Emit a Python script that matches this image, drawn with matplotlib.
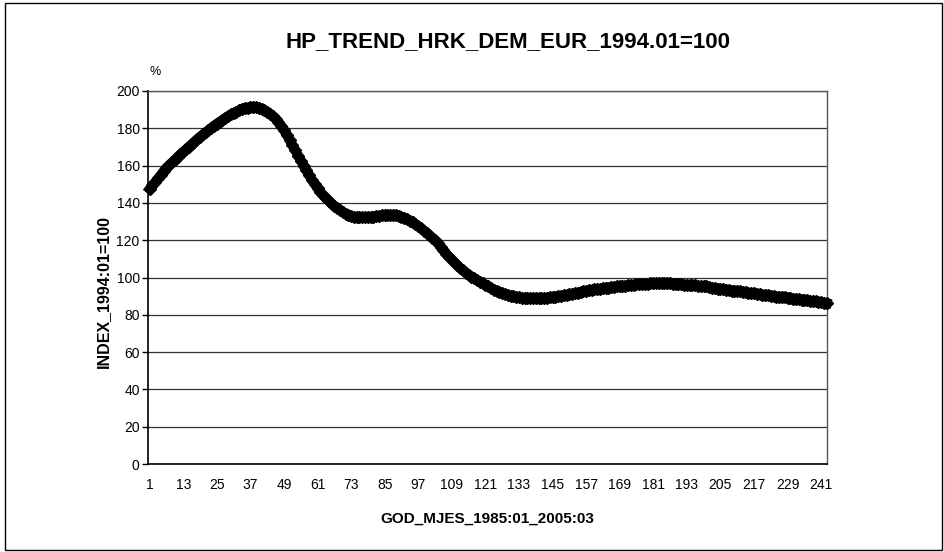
import matplotlib
matplotlib.use("Agg")
import matplotlib.pyplot as plt
from matplotlib.patches import Rectangle

plt.rcParams['font.family'] = ['Liberation Sans', 'DejaVu Sans']

title = "HP_TREND_HRK_DEM_EUR_1994.01=100"
xlabel = "GOD_MJES_1985:01_2005:03"
ylabel = "INDEX_1994:01=100"
unit_label = "%"

months = list(range(1, 244))
values = [
    147.5, 149.4, 151.3, 153.2, 155.1, 157.0, 158.9, 160.4, 161.8, 163.2, 164.7, 166.1,
    167.5, 168.8, 170.2, 171.5, 172.9, 174.2, 175.5, 176.7, 177.9, 179.0, 180.2, 181.4,
    182.5, 183.5, 184.5, 185.5, 186.5, 187.4, 188.3, 189.0, 189.7, 190.3, 190.8, 191.1,
    191.3, 191.4, 191.3, 191.0, 190.5, 189.8, 189.0, 187.8, 186.5, 185.0, 183.2, 181.2,
    179.0, 176.5, 173.8, 171.0, 168.2, 165.4, 162.7, 160.0, 157.4, 154.8, 152.3, 150.0,
    147.8, 145.8, 144.0, 142.4, 141.0, 139.6, 138.4, 137.2, 136.1, 135.1, 134.2, 133.5,
    133.0, 132.7, 132.4, 132.3, 132.3, 132.3, 132.4, 132.5, 132.7, 132.9, 133.1, 133.3,
    133.4, 133.5, 133.5, 133.5, 133.3, 133.0, 132.6, 132.0, 131.3, 130.5, 129.6, 128.6,
    127.5, 126.4, 125.2, 124.0, 122.7, 121.4, 120.0, 118.3, 116.4, 114.5, 112.8, 111.1,
    109.5, 108.0, 106.5, 105.0, 103.8, 102.6, 101.5, 100.5, 99.5, 98.5, 97.6, 96.8,
    96.0, 95.2, 94.3, 93.5, 92.8, 92.2, 91.6, 91.1, 90.6, 90.2, 89.9, 89.6,
    89.3, 89.2, 89.0, 88.9, 88.8, 88.8, 88.8, 88.8, 88.9, 89.0, 89.2, 89.3,
    89.5, 89.7, 90.0, 90.2, 90.4, 90.7, 91.0, 91.3, 91.6, 91.9, 92.2, 92.5,
    92.8, 93.1, 93.3, 93.6, 93.8, 94.0, 94.2, 94.4, 94.6, 94.8, 95.0, 95.2,
    95.3, 95.5, 95.7, 95.8, 96.0, 96.1, 96.3, 96.4, 96.5, 96.6, 96.7, 96.8,
    96.8, 96.9, 96.9, 97.0, 97.0, 96.9, 96.8, 96.7, 96.6, 96.4, 96.3, 96.2,
    96.1, 96.0, 95.9, 95.8, 95.6, 95.5, 95.3, 95.2, 94.9, 94.6, 94.4, 94.1,
    93.8, 93.6, 93.4, 93.2, 93.0, 92.8, 92.6, 92.5, 92.3, 92.1, 91.9, 91.7,
    91.5, 91.2, 91.0, 90.8, 90.6, 90.4, 90.2, 90.0, 89.8, 89.6, 89.4, 89.3,
    89.1, 88.9, 88.7, 88.5, 88.3, 88.1, 87.9, 87.7, 87.5, 87.4, 87.2, 87.0,
    86.7, 86.5, 86.2,
]
xticks = list(range(1, 242, 12))
yticks = list(range(0, 201, 20))

fig = plt.figure(figsize=(9.45, 5.52), dpi=100)
fig.patch.set_facecolor('white')
fig.patches.append(Rectangle((5/945, 2/552), 937/945, 547/552, transform=fig.transFigure,
                             fill=False, edgecolor='black', linewidth=1.0))

ax = fig.add_axes([148/945, 1 - 464/552, (826.7 - 148)/945, (464 - 91)/552])
ax.plot(months, values, color='black', linewidth=7, marker='D', markersize=6,
        markeredgecolor='black', solid_joinstyle='round', zorder=3, clip_on=False)
ax.set_xlim(0.4, 243)
ax.set_ylim(0, 200)
ax.set_yticks(yticks)
ax.set_xticks(xticks)
ax.set_xticklabels([str(t) for t in xticks], fontsize=10)
ax.set_yticklabels([str(t) for t in yticks], fontsize=10)
ax.tick_params(axis='x', length=0, pad=10)
ax.tick_params(axis='y', length=4, width=1, pad=2, direction='out')
ax.grid(axis='y', color='#333333', linewidth=0.9)
ax.set_axisbelow(True)
for side in ['left', 'bottom']:
    ax.spines[side].set_color('black')
    ax.spines[side].set_linewidth(1.2)
for side in ['top', 'right']:
    ax.spines[side].set_color('#555555')
    ax.spines[side].set_linewidth(1.0)

fig.text(508/945, 1 - 42/552, title, ha='center', va='center', fontsize=16, fontweight='bold')
fig.text(487/945, 1 - 519/552, xlabel, ha='center', va='center', fontsize=11, fontweight='bold')
fig.text(103/945, 1 - 291/552, ylabel, ha='center', va='center', rotation=90, fontsize=11.5, fontweight='bold')
fig.text(155/945, 1 - 72/552, unit_label, ha='center', va='center', fontsize=9)

fig.savefig('out.png', dpi=100)
